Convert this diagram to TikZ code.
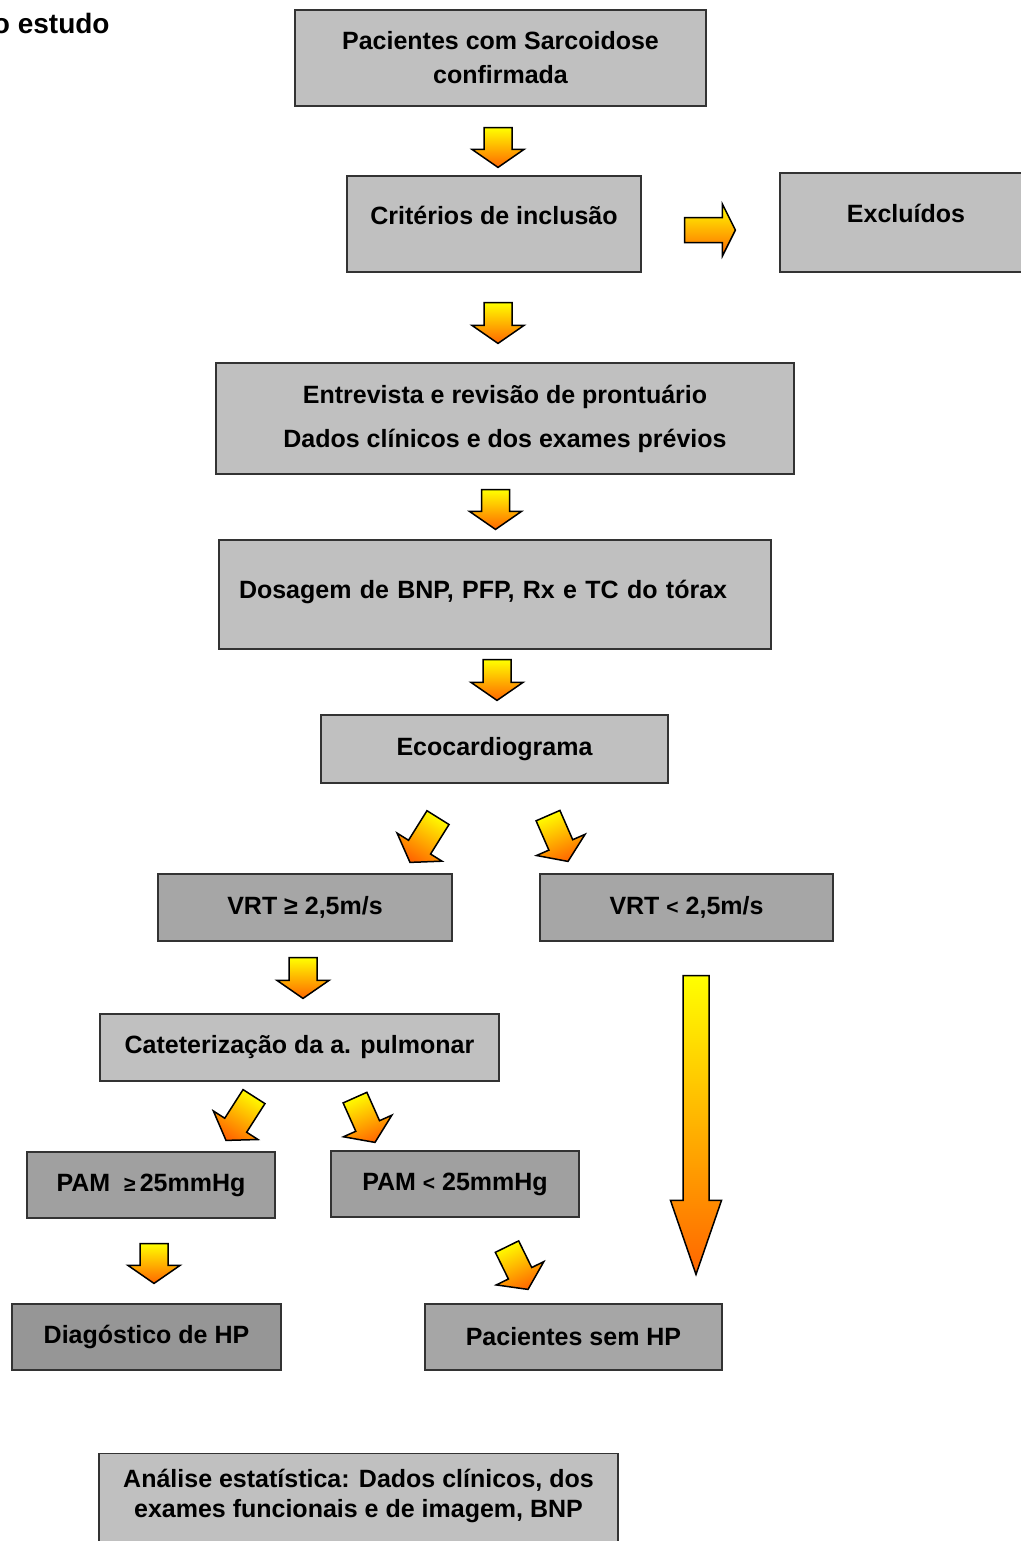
\documentclass[tikz,border=0pt]{standalone}
\usepackage{fontspec}
\setmainfont{Liberation Sans}
\usetikzlibrary{positioning, calc}

\definecolor{cinzaclaro}{RGB}{192,192,192}
\definecolor{cinzamedio}{RGB}{166,166,166}
\definecolor{cinzapam}{RGB}{160,160,160}
\definecolor{cinzaescuro}{RGB}{150,150,150}
\definecolor{laranja}{RGB}{255,102,0}

% seta larga: [opcoes]{cauda}{ponta}{meia largura}{meia largura da cabeca}{comprimento da cabeca}
\newcommand{\seta}[6][]{%
  \coordinate (ca) at #2;
  \coordinate (cb) at #3;
  \coordinate (cn) at ($(cb)!#6!(ca)$);
  \path[seta, #1] ($(ca)!#4!90:(cb)$) -- ($(cn)!#4!90:(cb)$) -- ($(cn)!#5!90:(cb)$) -- (cb)
    -- ($(cn)!#5!-90:(cb)$) -- ($(cn)!#4!-90:(cb)$) -- ($(ca)!#4!-90:(cb)$) -- cycle;
}
\newcommand{\menor}{{\fontsize{10.5}{10}\selectfont <}}

\begin{document}
\begin{tikzpicture}[x=0.5pt, y=-0.5pt,
    caixa/.style={rectangle, draw=black!80, line width=0.6pt, fill=cinzaclaro, align=center,
      font=\bfseries\fontsize{12.5}{14.5}\selectfont},
    seta/.style={draw=black, line width=0.75pt, top color=yellow, bottom color=laranja}]
  \useasboundingbox (0,0) rectangle (1021,1541);

  % Titulo
  \node[anchor=base east, inner sep=0pt, font=\bfseries\fontsize{14}{16}\selectfont] (titulo) at (110,34) {o estudo};

  % Caixas
  \node[caixa, minimum width=205.5pt, minimum height=48pt] (pac) at (500.5,58) {Pacientes com Sarcoidose\\[2.5pt]confirmada};
  \node[caixa, minimum width=147pt, minimum height=48pt, text height=9pt, text depth=9pt] (crit) at (494,224) {Critérios de inclusão};
  \node[caixa, minimum width=126pt, minimum height=49.5pt, text height=9pt, text depth=9pt] (excl) at (906,222.5) {Excluídos};
  \node[caixa, minimum width=289pt, minimum height=55.5pt] (entr) at (505,418.5) {Entrevista e revisão de prontuário\\[7.5pt]Dados clínicos e dos exames prévios};
  \node[caixa, minimum height=54.5pt, inner xsep=10pt, text width=256pt, align=left, text height=9pt, text depth=5.5pt] (dos) at (495,594.5) {Dosagem de BNP, PFP, Rx e TC do tórax};
  \node[caixa, minimum width=173.5pt, minimum height=34pt] (eco) at (494.5,749) {Ecocardiograma};

  \node[caixa, fill=cinzamedio, minimum width=147pt, minimum height=33.5pt] (vrta) at (305,907.5) {VRT ≥ 2,5m/s};
  \node[caixa, fill=cinzamedio, minimum width=146.5pt, minimum height=33.5pt] (vrtb) at (686.5,907.5) {VRT \menor\ 2,5m/s};
  \node[caixa, minimum width=199.5pt, minimum height=33.5pt] (cat) at (299.5,1047.5) {Cateterização da a. pulmonar};

  \node[caixa, fill=cinzapam, minimum width=124pt, minimum height=33pt] (pama) at (151,1185) {PAM\ \ {\fontsize{10.5}{10}\selectfont ≥}\,25mmHg};
  \node[caixa, fill=cinzapam, minimum width=124pt, minimum height=33pt] (pamb) at (455,1184) {PAM \menor\ 25mmHg};
  \node[caixa, fill=cinzaescuro, minimum width=134.5pt, minimum height=33pt] (diag) at (146.5,1337) {Diagóstico de HP};
  \node[caixa, fill=cinzamedio, minimum width=148.5pt, minimum height=33pt] (sem) at (573.5,1337) {Pacientes sem HP};

  \node[caixa, anchor=north, minimum width=259.5pt, inner ysep=8pt, text height=24pt, text depth=25pt,
    font=\bfseries\fontsize{12.5}{15}\selectfont] (ana) at (358.5,1453) {Análise estatística: Dados clínicos, dos\\exames funcionais e de imagem, BNP};

  % Setas
  \seta{($(pac.south)+(-2.5,21)$)}{($(crit.north)+(4,-8)$)}{7pt}{13pt}{9pt}
  \seta{($(crit.south)+(4,30)$)}{($(entr.north)+(-7,-19)$)}{7pt}{13pt}{9pt}
  \seta{($(entr.south)+(-9.5,15)$)}{($(dos.north)+(0.5,-10)$)}{7pt}{13pt}{9pt}
  \seta{($(dos.south)+(2,10)$)}{($(eco.north)+(2.5,-14)$)}{7pt}{13pt}{9pt}
  \seta{($(crit.east)+(43,6)$)}{($(excl.west)+(-44,7.5)$)}{6.25pt}{13pt}{6.5pt}

  \seta[shading angle=-31]{($(eco.south)+(-56.5,34)$)}{($(vrta.north)+(105,-11)$)}{6.5pt}{13.25pt}{9pt}
  \seta[shading angle=23]{($(eco.south)+(53.5,32)$)}{($(vrtb.north)+(-118.5,-12)$)}{6.5pt}{13.25pt}{9pt}
  \seta{($(vrta.south)+(-2,16)$)}{($(cat.north)+(3.5,-15)$)}{7pt}{13pt}{9pt}
  \seta{($(vrtb.south)+(9.5,34)$)}{($(sem.north)+(122.5,-29)$)}{6.5pt}{12.75pt}{37pt}

  \seta[shading angle=-31]{($(cat.south)+(-45.5,15)$)}{($(pama.north)+(75,-11)$)}{6.5pt}{13.25pt}{9pt}
  \seta[shading angle=23]{($(cat.south)+(55.5,16)$)}{($(pamb.north)+(-80,-8)$)}{6.5pt}{13.25pt}{9pt}
  \seta{($(pama.south)+(3,25)$)}{($(diag.north)+(7.5,-20)$)}{7pt}{13pt}{9pt}
  \seta[shading angle=25]{($(pamb.south)+(52,29)$)}{($(sem.north)+(-45.5,-14)$)}{6.5pt}{13.25pt}{9pt}
\end{tikzpicture}
\end{document}
